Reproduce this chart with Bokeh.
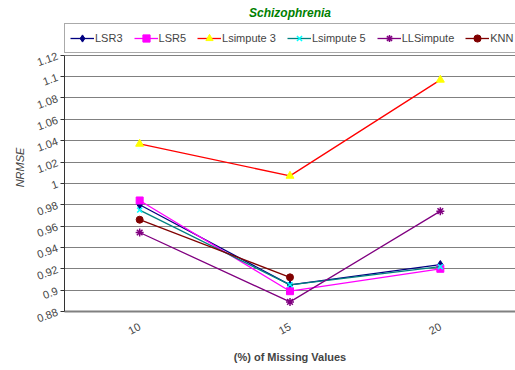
from bokeh.plotting import figure
from bokeh.models import (FactorRange, Range1d, FixedTicker, Legend, LegendItem)
from bokeh.embed import file_html
from bokeh.resources import INLINE

# ---- data ----
missing = ["10", "15", "20"]
y_ticks = [0.88, 0.9, 0.92, 0.94, 0.96, 0.98, 1.0, 1.02, 1.04, 1.06, 1.08, 1.1, 1.12]
y_tick_labels = ["0.88", "0.9", "0.92", "0.94", "0.96", "0.98", "1", "1.02",
                 "1.04", "1.06", "1.08", "1.1", "1.12"]

lsr3 = [0.980, 0.905, 0.924]
lsr5 = [0.984, 0.899, 0.920]
lsimpute3 = [1.037, 1.007, 1.097]
lsimpute5 = [0.975, 0.905, 0.922]
llsimpute = [0.954, 0.889, 0.974]
knn = [0.966, 0.912]

series_names = ["LSR3", "LSR5", "Lsimpute 3", "Lsimpute 5", "LLSimpute", "KNN"]
series_values = [lsr3, lsr5, lsimpute3, lsimpute5, llsimpute, knn]

# ---- styles ----
line_colors = ["#000080", "#FF00FF", "#FF0000", "#008080", "#800080", "#800000"]
marker_fill = ["#000080", "#FF00FF", "#FFFF00", "#00FFFF", "#800080", "#800000"]
marker_line = ["#000080", "#FF00FF", "#FFFF00", "#00FFFF", "#800080", "#800000"]
markers = ["diamond", "square", "triangle", "x", "asterisk", "circle"]
marker_sizes = [8, 7, 8, 7, 8, 7]

FONT = "Liberation Sans"
W, H = 515, 370
TOP, BOTTOM, LEFT = 21, 59, 64      # frame borders (px)
PLOT_TOP = 53                       # where the value area (1.12) starts (px)
FRAME_H = H - TOP - BOTTOM
DATA_H = H - PLOT_TOP - BOTTOM
y_lo, y_hi = y_ticks[0], y_ticks[-1]
# extend the range upward so the legend can sit inside the frame above 1.12
y_top = y_lo + (y_hi - y_lo) * FRAME_H / DATA_H

p = figure(x_range=FactorRange(*missing), y_range=Range1d(y_lo, y_top),
           width=W, height=H, output_backend="svg", toolbar_location=None,
           min_border_left=LEFT, min_border_right=0, min_border_top=TOP,
           min_border_bottom=BOTTOM)

items = []
for name, vals, lc, mf, ml, mk, ms in zip(series_names, series_values, line_colors,
                                          marker_fill, marker_line, markers, marker_sizes):
    xs = missing[:len(vals)]
    r1 = p.line(xs, vals, line_color=lc, line_width=1.3)
    r2 = p.scatter(xs, vals, marker=mk, size=ms, fill_color=mf, line_color=ml,
                   line_width=1.5 if mk in ("x", "asterisk") else 1)
    items.append(LegendItem(label=name, renderers=[r1, r2]))

legend = Legend(items=items, orientation="horizontal", location="top_left",
                margin=0, padding=5, spacing=11, glyph_width=24, glyph_height=18,
                label_height=18, label_standoff=1,
                label_text_font=FONT, label_text_font_size="11px",
                border_line_color="#555555", border_line_width=1,
                background_fill_color="white", background_fill_alpha=1)
p.add_layout(legend)

p.title.text = "Schizophrenia"
p.title.text_font = FONT
p.title.text_font_size = "12px"
p.title.text_font_style = "bold italic"
p.title.text_color = "#008000"
p.title.align = "center"
p.title.offset = -12
p.title.standoff = 7

# y axis
p.yaxis.ticker = FixedTicker(ticks=y_ticks)
p.yaxis.bounds = (y_lo, y_hi)
p.yaxis.major_label_overrides = dict(zip(y_ticks, y_tick_labels))
p.yaxis.major_label_orientation = 0.35
p.yaxis.major_label_text_font = FONT
p.yaxis.major_label_text_font_size = "11px"
p.yaxis.major_tick_out = 4
p.yaxis.major_tick_in = 0
p.yaxis.minor_tick_line_color = None
p.yaxis.axis_line_color = "#333333"
p.yaxis.major_tick_line_color = "#333333"
p.yaxis.axis_label = "NRMSE"
p.yaxis.axis_label_text_font = FONT
p.yaxis.axis_label_text_font_size = "11px"
p.yaxis.axis_label_text_font_style = "italic"
p.yaxis.axis_label_standoff = 6
p.yaxis.major_label_standoff = 3

# x axis
p.xaxis.major_label_orientation = 0.5
p.xaxis.major_label_text_font = FONT
p.xaxis.major_label_text_font_size = "11px"
p.xaxis.major_tick_line_color = None
p.xaxis.axis_line_color = "#808080"
p.xaxis.axis_line_width = 2
p.xaxis.major_label_standoff = 8
p.xaxis.axis_label = "(%) of Missing Values"
p.xaxis.axis_label_text_font = FONT
p.xaxis.axis_label_text_font_size = "11px"
p.xaxis.axis_label_text_font_style = "bold"
p.xaxis.axis_label_standoff = 10

p.xgrid.grid_line_color = None
p.ygrid.grid_line_color = "#808080"
p.ygrid.grid_line_width = 1
p.outline_line_color = None

open("out.html", "w").write(file_html(p, INLINE))
